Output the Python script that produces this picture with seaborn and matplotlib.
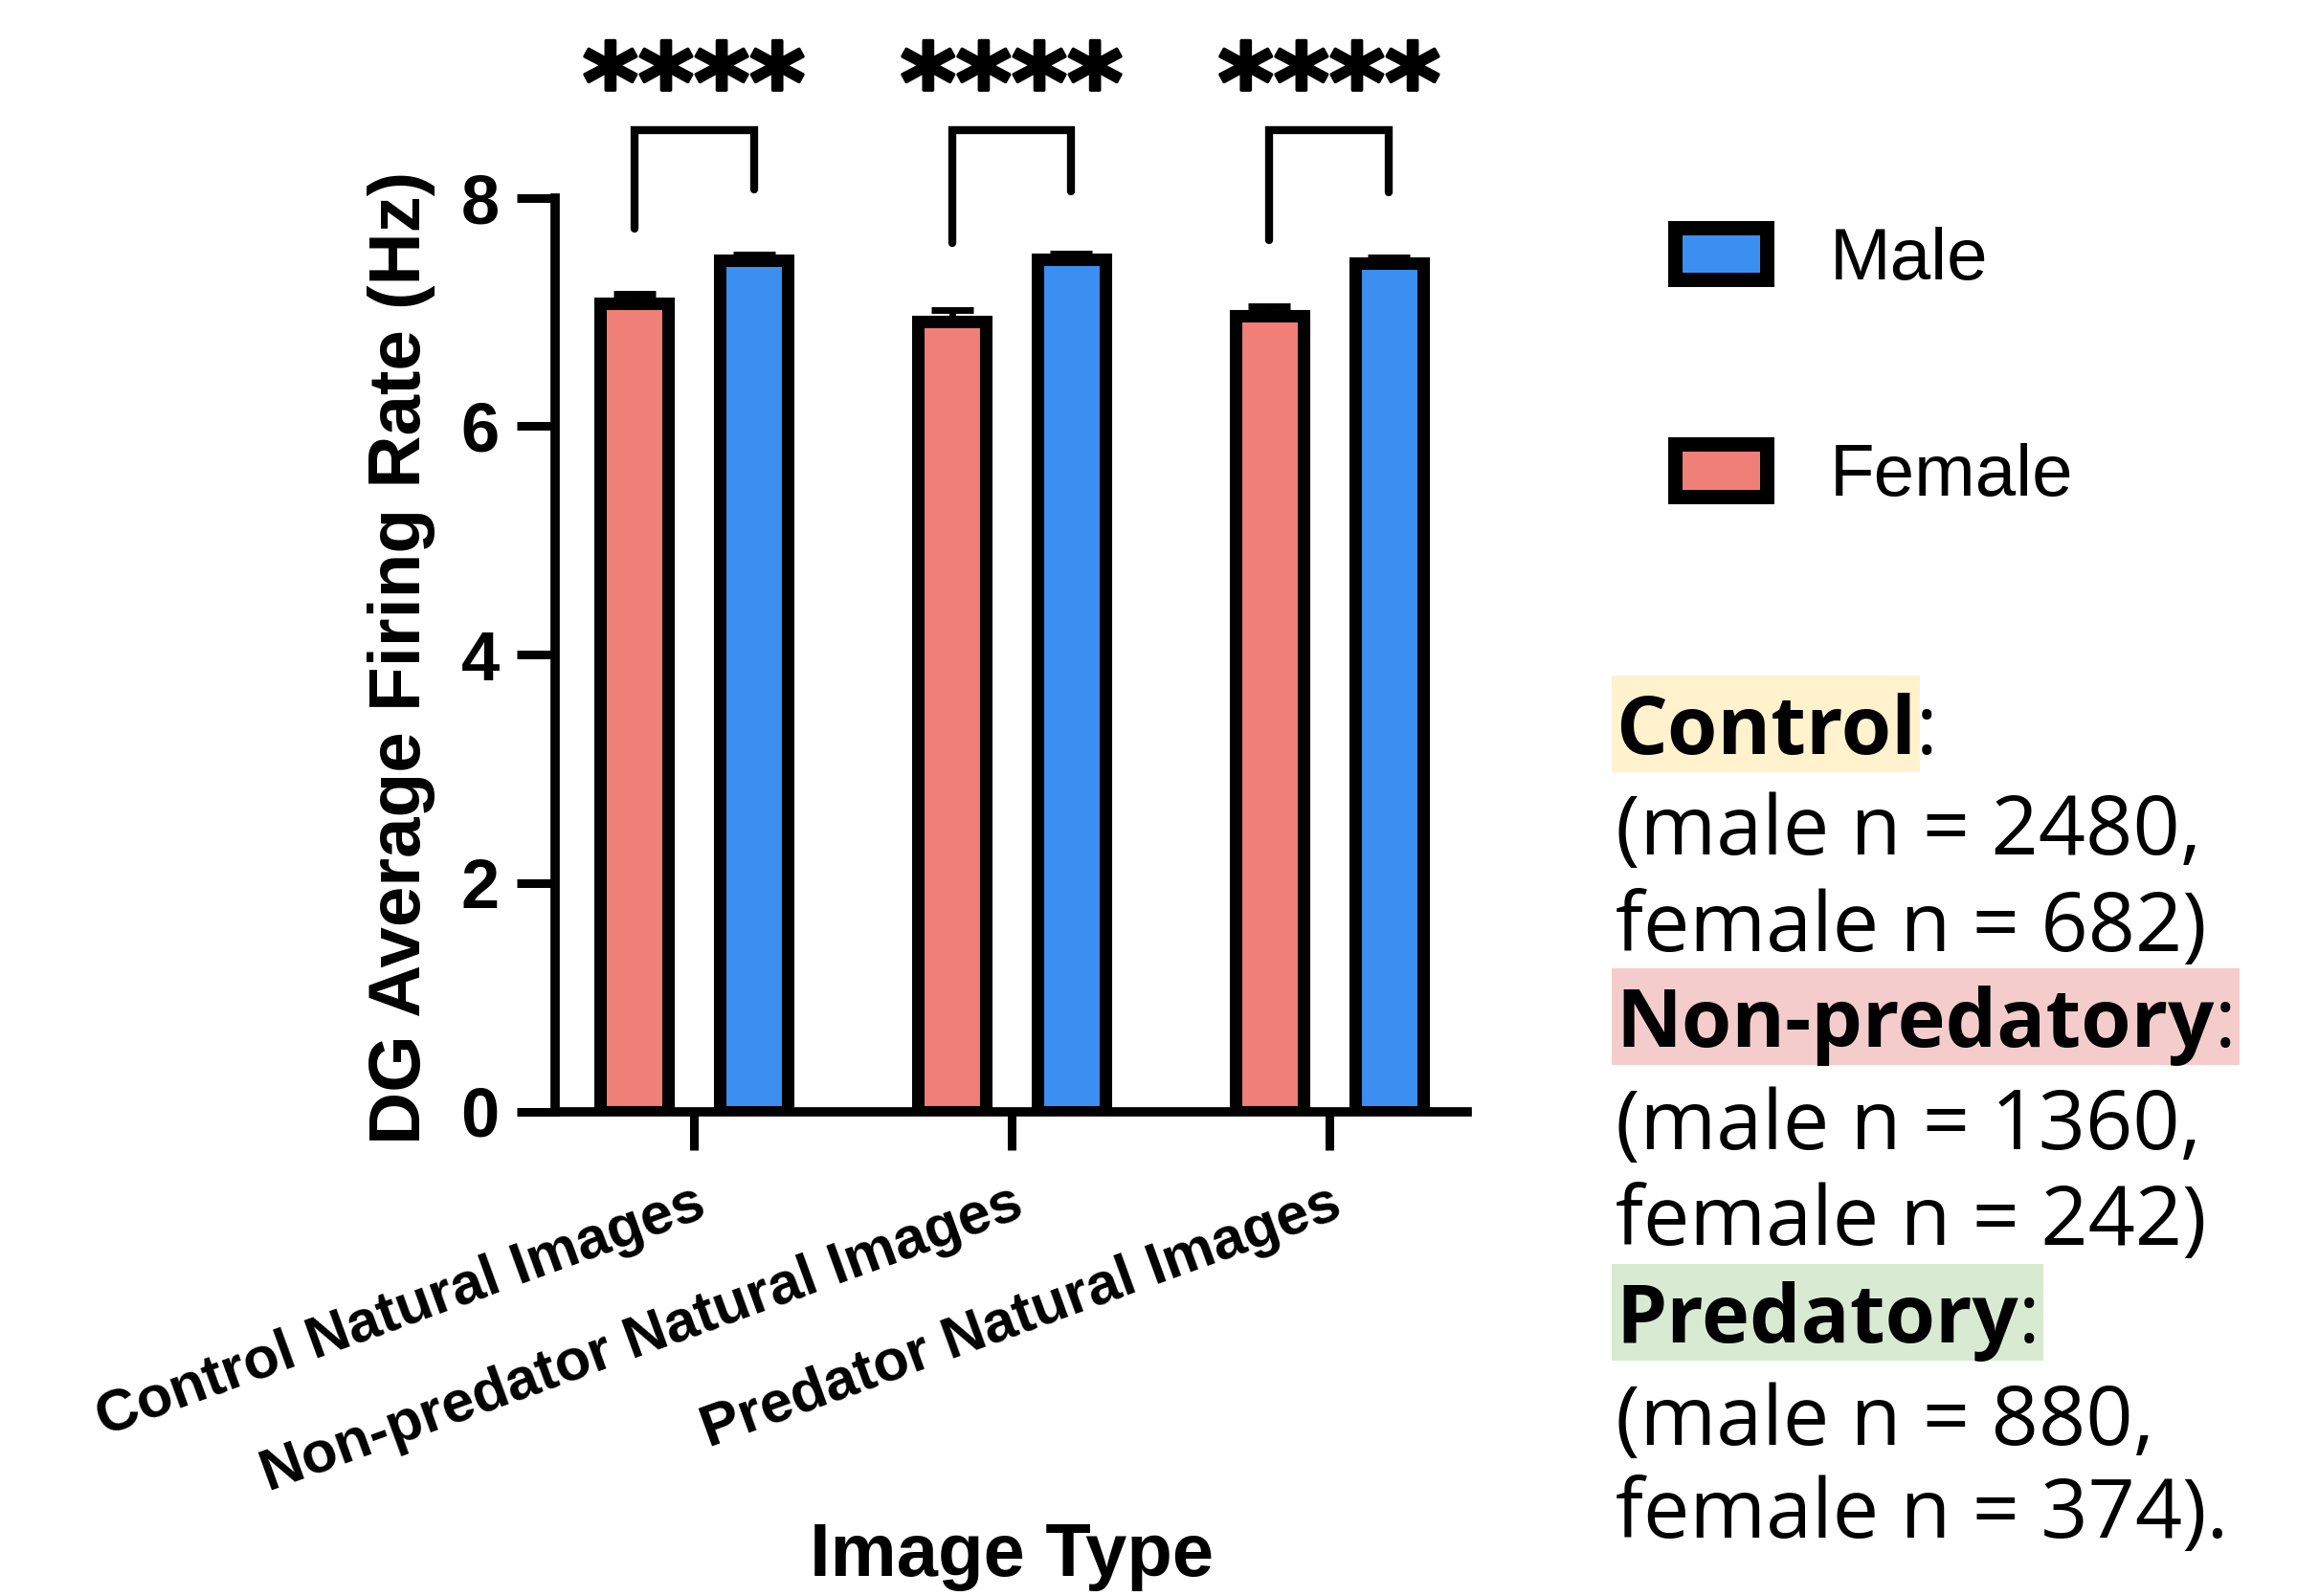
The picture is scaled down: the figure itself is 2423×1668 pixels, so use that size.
import matplotlib
matplotlib.use("Agg")
import matplotlib.pyplot as plt
from matplotlib.patches import Rectangle
import matplotlib.patheffects as pe
import numpy as np
import pandas as pd
import seaborn as sns

# data
image_types = ['Control Natural Images', 'Non-predator Natural Images', 'Predator Natural Images']
sexes = ['Female', 'Male']
female_rate = [7.08, 6.92, 6.97]
male_rate = [7.45, 7.46, 7.43]
female_sem = [0.08, 0.10, 0.08]
male_sem = [0.05, 0.05, 0.05]
sig_labels = ['****', '****', '****']
bracket_female_end = [7.73, 7.60, 7.63]
bracket_male_end = [8.07, 8.06, 8.05]
bracket_top = [8.59, 8.59, 8.59]

group_names = ['Control', 'Non-predatory', 'Predatory']
male_n = [2480, 1360, 880]
female_n = [682, 242, 374]
highlight_colors = ['#fff2cc', '#f4cccc', '#d9ead3']
colon_inside = [False, True, True]

palette = {'Female': '#f07f77', 'Male': '#3b8ff0'}

W, H = 2423, 1668


def fx(x):
    return x / W


def fy(y):
    return 1 - y / H


sns.set_style('ticks')
plt.rcParams['font.family'] = ['Liberation Sans', 'DejaVu Sans']
plt.rcParams['font.weight'] = 'bold'
for key in ['text.color', 'axes.labelcolor', 'xtick.color', 'ytick.color', 'axes.edgecolor']:
    plt.rcParams[key] = 'black'

df = pd.DataFrame({
    'Image Type': image_types * 2,
    'Sex': ['Female'] * 3 + ['Male'] * 3,
    'Rate': female_rate + male_rate,
})

fig = plt.figure(figsize=(W / 100, H / 100), dpi=100)
ax = fig.add_axes([fx(580), fy(1161.5), (1533 - 580) / W, (1161.5 - 206.7) / H])

sns.barplot(data=df, x='Image Type', y='Rate', hue='Sex', order=image_types,
            hue_order=sexes, palette=palette, width=0.753, gap=0.43,
            errorbar=None, edgecolor='black', linewidth=9.4, saturation=1,
            legend=False, ax=ax)

# error bars (upper only) and significance brackets
centers = {}
for cont, sex, sem in zip(ax.containers, sexes, [female_sem, male_sem]):
    xs = [b.get_x() + b.get_width() / 2 for b in cont]
    hs = [b.get_height() for b in cont]
    centers[sex] = xs
    ax.errorbar(xs, hs, yerr=[np.zeros(len(sem)), sem], fmt='none', ecolor='black',
                elinewidth=5, capsize=16, capthick=5, zorder=5)

for i in range(len(image_types)):
    xf, xm = centers['Female'][i], centers['Male'][i]
    ax.plot([xf, xf, xm, xm],
            [bracket_female_end[i], bracket_top[i], bracket_top[i], bracket_male_end[i]],
            color='black', lw=6, clip_on=False, solid_joinstyle='miter', zorder=6)
    ax.text(i, 8.94, sig_labels[i], ha='center', va='center', fontsize=80,
            fontweight='bold', family='DejaVu Sans', clip_on=False,
            path_effects=[pe.withStroke(linewidth=2.5, foreground='black')])

ax.set_xlim(-0.437, 2.434)
ax.set_ylim(0, 8)
ax.set_yticks([0, 2, 4, 6, 8])
sns.despine(ax=ax)
for s in ['left', 'bottom']:
    ax.spines[s].set_linewidth(7)
    ax.spines[s].set_color('black')
ax.tick_params(axis='both', length=29, width=6.5, color='black')
ax.tick_params(axis='y', labelsize=52, pad=13)
ax.tick_params(axis='x', labelsize=44, pad=20)
plt.setp(ax.get_xticklabels(), rotation=20, ha='right', va='top', rotation_mode='anchor')

ax.set_ylabel('DG Average Firing Rate (Hz)', fontsize=55, fontweight='bold')
ax.yaxis.set_label_coords(-0.168, 0.496)
ax.yaxis.label.set_va('center')
ax.set_xlabel('Image Type', fontsize=56, fontweight='bold')
ax.xaxis.set_label_coords(0.5, -0.4865)
ax.xaxis.label.set_va('center')

# legend (Male on top, Female below)
legend_rows = [('Male', 265, 292), ('Female', 491.5, 518)]
for name, yc, base in legend_rows:
    fig.add_artist(Rectangle((fx(1750), fy(yc + 27)), 96 / W, 54 / H,
                             transform=fig.transFigure, facecolor=palette[name],
                             edgecolor='black', linewidth=10.8))
    fig.text(fx(1912), fy(base), name, fontsize=55, fontweight='normal',
             va='baseline', ha='left')

# sample size notes
line_base = [788, 893, 994, 1094, 1201, 1301, 1403, 1510, 1607]
x0 = 1688
fs = 62
heads = []
for k, name in enumerate(group_names):
    b0 = line_base[3 * k]
    t = fig.text(fx(x0), fy(b0), name, fontsize=fs - 1, fontweight='bold',
                 family='Open Sans', va='baseline', ha='left')
    heads.append(t)
    fig.text(fx(x0), fy(line_base[3 * k + 1]), f'(male n = {male_n[k]},',
             fontsize=fs, fontweight='normal', family='Open Sans', va='baseline')
    end = ')' if k < 2 else ').'
    fig.text(fx(x0), fy(line_base[3 * k + 2]), f'female n = {female_n[k]}{end}',
             fontsize=fs, fontweight='normal', family='Open Sans', va='baseline')

fig.canvas.draw()
r = fig.canvas.get_renderer()
colons = []
for k, t in enumerate(heads):
    bb = t.get_window_extent(r)
    c = fig.text(bb.x1 / W, fy(line_base[3 * k]), ':', fontsize=fs, fontweight='normal',
                 family='Open Sans', va='baseline', ha='left')
    colons.append(c)
fig.canvas.draw()
for k, t in enumerate(heads):
    bb = t.get_window_extent(r)
    right = colons[k].get_window_extent(r).x1 if colon_inside[k] else bb.x1
    b0 = line_base[3 * k]
    top, bot = b0 - 82, b0 + 19
    fig.add_artist(Rectangle((fx(bb.x0 - 4), fy(bot)), (right + 4 - bb.x0 + 4) / W,
                             (bot - top) / H, transform=fig.transFigure,
                             facecolor=highlight_colors[k], edgecolor='none', zorder=-1))

fig.savefig('out.png', dpi=100)
